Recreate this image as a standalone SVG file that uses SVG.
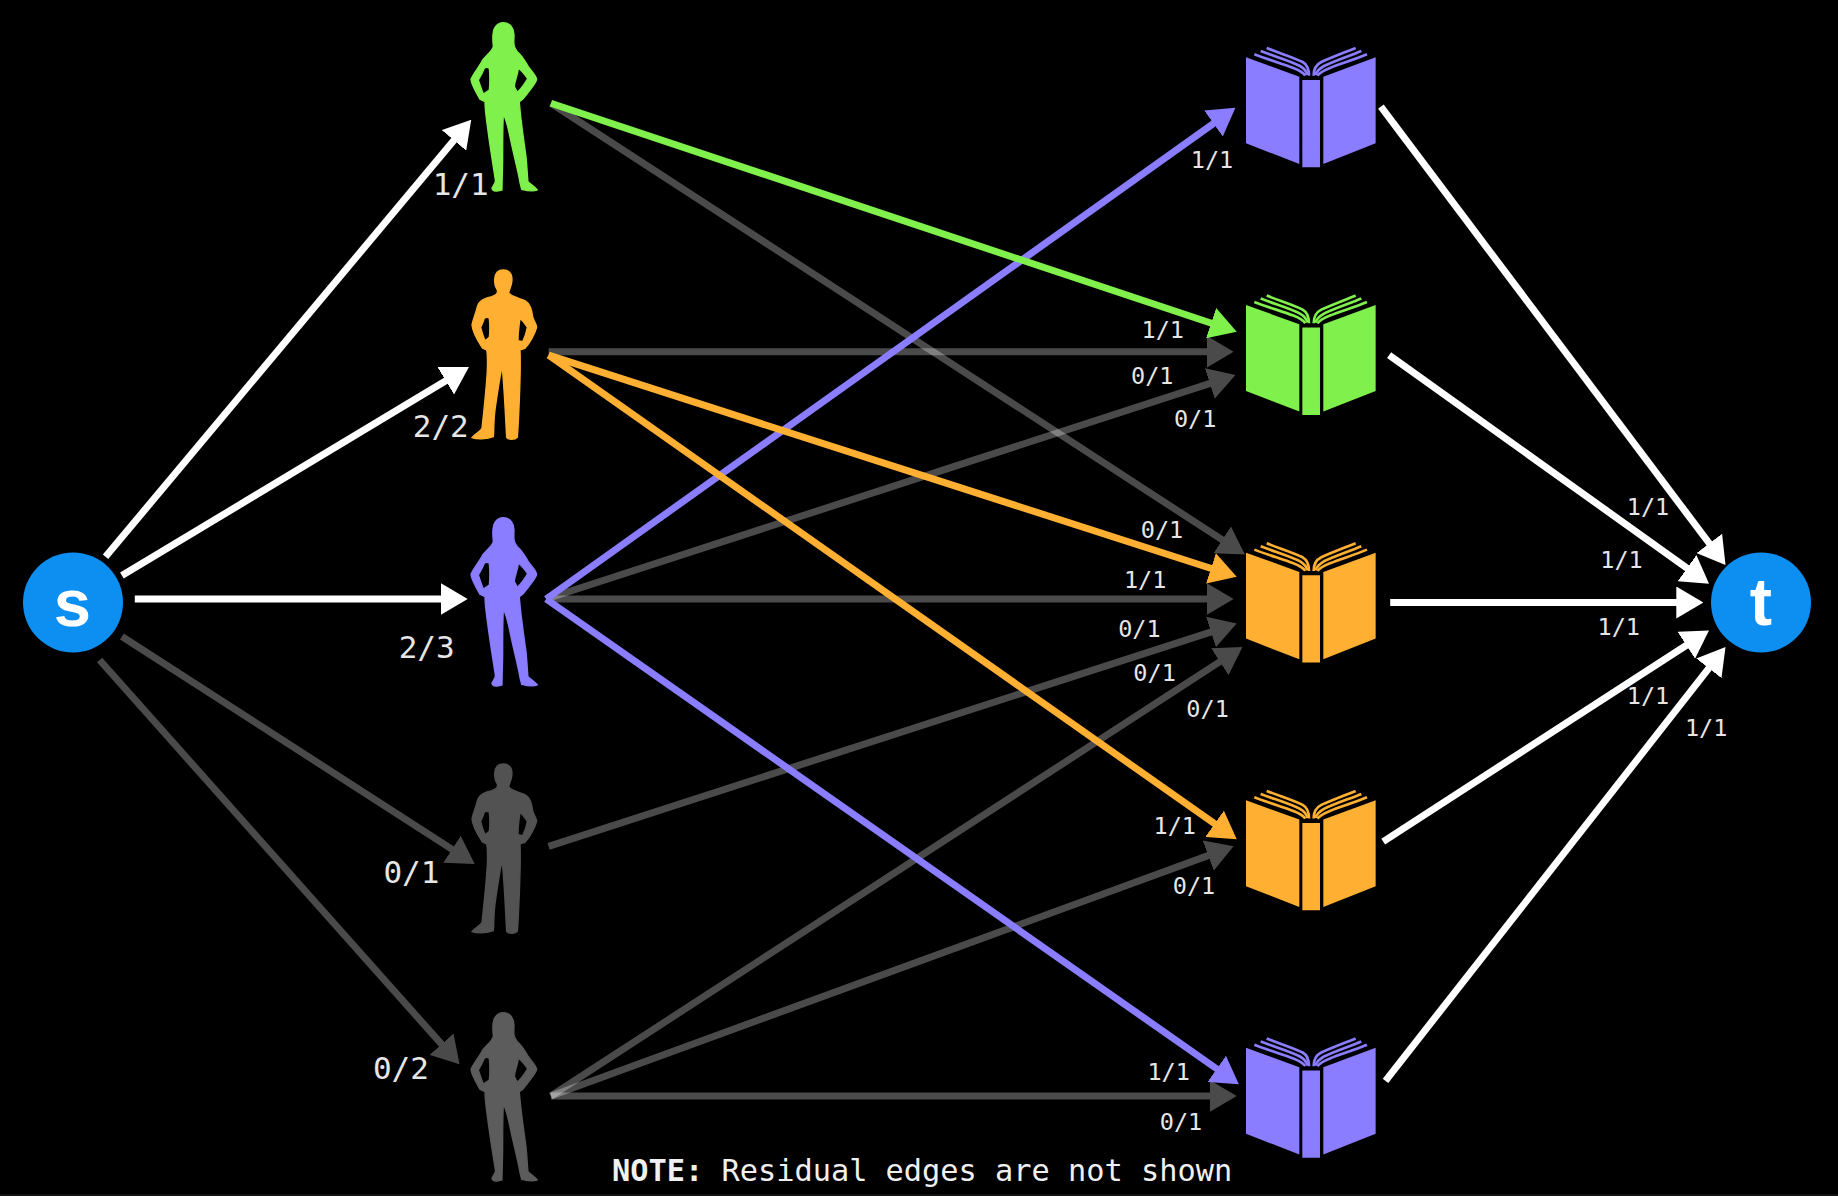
<svg xmlns="http://www.w3.org/2000/svg" xmlns:xlink="http://www.w3.org/1999/xlink" width="1838" height="1196" viewBox="0 0 1838 1196">
<style>
.e{fill:none;stroke-width:7;stroke-linecap:butt}
.w{stroke:#fff}.gy{stroke:#fff;opacity:.29}.g{stroke:#80f04c}.o{stroke:#ffb032}.p{stroke:#8a7dff}
.big{font:31px "DejaVu Sans Mono",monospace;fill:#e6e6e6;text-anchor:middle}
.sm{font:23.5px "DejaVu Sans Mono",monospace;fill:#e6e6e6;text-anchor:middle}
.nd{font:bold 67px "Liberation Sans",Arial,sans-serif;fill:#fff;text-anchor:middle}
.pg{fill:none;stroke-width:8;stroke:currentColor}
.sil{stroke-width:4;stroke:currentColor;fill:currentColor}
</style>
<defs>
<marker id="mw" markerUnits="userSpaceOnUse" markerWidth="27" markerHeight="32" viewBox="0 0 27 32" refX="2" refY="16" orient="auto"><path d="M0 0L27 16L0 32Z" fill="#fff"/></marker>
<marker id="my" markerUnits="userSpaceOnUse" markerWidth="27" markerHeight="32" viewBox="0 0 27 32" refX="2" refY="16" orient="auto"><path d="M0 0L27 16L0 32Z" fill="#fff"/></marker>
<marker id="mg" markerUnits="userSpaceOnUse" markerWidth="27" markerHeight="32" viewBox="0 0 27 32" refX="2" refY="16" orient="auto"><path d="M0 0L27 16L0 32Z" fill="#80f04c"/></marker>
<marker id="mo" markerUnits="userSpaceOnUse" markerWidth="27" markerHeight="32" viewBox="0 0 27 32" refX="2" refY="16" orient="auto"><path d="M0 0L27 16L0 32Z" fill="#ffb032"/></marker>
<marker id="mp" markerUnits="userSpaceOnUse" markerWidth="27" markerHeight="32" viewBox="0 0 27 32" refX="2" refY="16" orient="auto"><path d="M0 0L27 16L0 32Z" fill="#8a7dff"/></marker>
<path id="female" class="sil" fill-rule="evenodd" transform="scale(.3333)" d="M190 68C212 68 222 88 222 105C222 125 218 140 232 155C245 165 252 178 262 195C272 212 288 225 290 238C288 250 270 270 248 298L238 305C240 340 248 400 258 470C262 510 262 530 264 545C275 555 290 565 292 570C280 575 260 572 245 568L240 548C238 530 225 480 212 420C205 385 195 350 190 345C188 380 188 420 188 470C188 510 186 540 186 570C175 575 158 575 156 565C160 555 168 548 166 540C160 500 150 440 143 385C138 350 135 320 135 305L120 298C110 280 95 255 93 238C100 220 118 200 128 180C140 165 155 155 160 140C158 120 156 95 165 82C172 72 180 68 190 68ZM133 205C125 225 118 235 115 240C120 255 125 270 130 282L148 270C150 250 150 225 148 205C142 200 138 200 133 205ZM235 205C234 225 224 240 223 260L232 277C245 265 255 250 263 236C255 225 245 212 235 205Z"/>
<path id="male" class="sil" fill-rule="evenodd" transform="scale(.3333)" d="M190 60C208 60 216 72 216 90C216 105 208 118 206 128C210 138 240 145 255 152C272 162 275 180 278 200C282 215 290 222 290 232C285 250 270 280 255 295L240 300C242 340 240 400 238 450C236 500 234 540 232 562C225 570 205 570 200 562C198 530 196 480 192 420C190 390 188 360 186 350C180 380 172 430 165 480C160 520 162 550 160 560C140 568 110 568 96 563C105 550 122 545 126 535C132 480 140 400 142 360C143 335 142 310 140 300L128 295C115 275 98 250 96 225C100 205 108 190 112 170C118 150 135 145 155 140C170 135 175 130 172 120C165 110 163 100 164 88C165 70 175 60 190 60ZM133 205C130 215 125 225 122 232C125 245 130 260 135 272L148 262C150 245 150 225 148 205C142 200 138 200 133 205ZM240 205C238 225 234 240 234 272L248 275C255 260 260 245 262 232C255 222 248 212 240 205Z"/>
<g id="book" transform="scale(.3333)">
<path fill="currentColor" d="M78 82L238 140V402L78 340ZM247 150H300V412H247ZM310 140L467 82V340L310 402Z"/>
<g class="pg">
<path d="M140 54C175 68 225 84 248 96C262 104 267 118 267 137"/>
<path d="M122 63C160 78 210 92 240 108C254 116 260 124 262 135"/>
<path d="M103 73C140 88 190 102 220 114C240 122 252 130 256 137"/>
<path d="M407 54C372 68 330 84 304 96C288 104 281 118 281 137"/>
<path d="M424 63C388 78 345 92 312 108C298 116 290 124 286 135"/>
<path d="M441 73C405 88 360 102 330 114C310 122 298 130 292 137"/>
</g>
</g>
</defs>
<rect width="1838" height="1196" fill="#000"/>
<rect y="1194" width="1838" height="2" fill="#111"/>
<g id="connectors">
<line class="e gy" x1="121.9" y1="636.5" x2="453.7" y2="850.4" marker-end="url(#my)"/>
<line class="e gy" x1="99.6" y1="660" x2="442.9" y2="1045.7" marker-end="url(#my)"/>
<line class="e gy" x1="550.9" y1="103.2" x2="1223.9" y2="540.9" marker-end="url(#my)"/>
<line class="e gy" x1="548.6" y1="351.7" x2="1208.6" y2="351.7" marker-end="url(#my)"/>
<line class="e gy" x1="546.2" y1="599" x2="1211.7" y2="382.8" marker-end="url(#my)"/>
<line class="e gy" x1="546.2" y1="599" x2="1208.6" y2="599" marker-end="url(#my)"/>
<line class="e gy" x1="548.6" y1="846.3" x2="1212.9" y2="631.3" marker-end="url(#my)"/>
<line class="e gy" x1="550.9" y1="1096" x2="1221.5" y2="660.6" marker-end="url(#my)"/>
<line class="e gy" x1="550.9" y1="1096" x2="1210.1" y2="854.9" marker-end="url(#my)"/>
<line class="e gy" x1="550.9" y1="1096" x2="1211.7" y2="1096" marker-end="url(#my)"/>
<line class="e w" x1="105.5" y1="556.8" x2="455.2" y2="138.8" marker-end="url(#mw)"/>
<line class="e w" x1="121.9" y1="575.6" x2="447.5" y2="379.8" marker-end="url(#mw)"/>
<line class="e w" x1="134.8" y1="599" x2="442.7" y2="599" marker-end="url(#mw)"/>
<line class="e p" x1="546.2" y1="599" x2="1215.1" y2="122.3" marker-end="url(#mp)"/>
<line class="e p" x1="546.2" y1="599" x2="1218.4" y2="1070" marker-end="url(#mp)"/>
<line class="e g" x1="550.9" y1="103.2" x2="1213" y2="323.8" marker-end="url(#mg)"/>
<line class="e o" x1="548.6" y1="355.2" x2="1212.9" y2="569" marker-end="url(#mo)"/>
<line class="e o" x1="548.6" y1="355.2" x2="1216.3" y2="824.9" marker-end="url(#mo)"/>
<line class="e w" x1="1380.9" y1="106.7" x2="1710.5" y2="545" marker-end="url(#mw)"/>
<line class="e w" x1="1389.1" y1="355.2" x2="1688.7" y2="569.3" marker-end="url(#mw)"/>
<line class="e w" x1="1390.2" y1="602.5" x2="1678.3" y2="602.5" marker-end="url(#mw)"/>
<line class="e w" x1="1383.2" y1="841.6" x2="1688" y2="644.2" marker-end="url(#mw)"/>
<line class="e w" x1="1385.5" y1="1080.8" x2="1710.1" y2="666.7" marker-end="url(#mw)"/>
</g>
<g id="source"><circle cx="73" cy="602.5" r="50" fill="#0d8ff2"/><text class="nd" x="72.5" y="626">s</text></g>
<g id="sink"><circle cx="1761" cy="602.5" r="50" fill="#0d8ff2"/><text class="nd" x="1761" y="625">t</text></g>
<g id="person1" color="#80f04c"><use href="#female" transform="translate(440 0)"/></g>
<g id="person2" color="#ffb032"><use href="#male" transform="translate(440 250)"/></g>
<g id="person3" color="#8a7dff"><use href="#female" transform="translate(440 495)"/></g>
<g id="person4" color="#525252"><use href="#male" transform="translate(440 744)"/></g>
<g id="person5" color="#5c5c5c"><use href="#female" transform="translate(440 990)"/></g>
<g id="book1" color="#8a7dff"><use href="#book" transform="translate(1220 30)"/></g>
<g id="book2" color="#80f04c"><use href="#book" transform="translate(1220 277.6)"/></g>
<g id="book3" color="#ffb032"><use href="#book" transform="translate(1220 525.3)"/></g>
<g id="book4" color="#ffb032"><use href="#book" transform="translate(1220 772.9)"/></g>
<g id="book5" color="#8a7dff"><use href="#book" transform="translate(1220 1020.5)"/></g>
<g id="labels">
<text class="big" x="460.7" y="195">1/1</text>
<text class="big" x="440.8" y="436.5">2/2</text>
<text class="big" x="426.7" y="658">2/3</text>
<text class="big" x="411.4" y="883">0/1</text>
<text class="big" x="400.9" y="1079">0/2</text>
<text class="sm" x="1212" y="167.5">1/1</text>
<text class="sm" x="1162.8" y="337.5">1/1</text>
<text class="sm" x="1152.3" y="383.5">0/1</text>
<text class="sm" x="1195.2" y="427">0/1</text>
<text class="sm" x="1162" y="537.5">0/1</text>
<text class="sm" x="1145.2" y="588">1/1</text>
<text class="sm" x="1139.4" y="636.5">0/1</text>
<text class="sm" x="1154.6" y="680.7">0/1</text>
<text class="sm" x="1207.6" y="717">0/1</text>
<text class="sm" x="1174.8" y="834">1/1</text>
<text class="sm" x="1194" y="893.5">0/1</text>
<text class="sm" x="1168.7" y="1080.4">1/1</text>
<text class="sm" x="1181" y="1130">0/1</text>
<text class="sm" x="1648" y="515">1/1</text>
<text class="sm" x="1621.5" y="568">1/1</text>
<text class="sm" x="1618.8" y="634.5">1/1</text>
<text class="sm" x="1648" y="704">1/1</text>
<text class="sm" x="1706.2" y="735.5">1/1</text>
</g>
<text id="note" x="612" y="1181" font-family="'DejaVu Sans Mono',monospace" font-size="30.3" fill="#f0f0f0"><tspan font-weight="bold">NOTE:</tspan> Residual edges are not shown</text>
</svg>
